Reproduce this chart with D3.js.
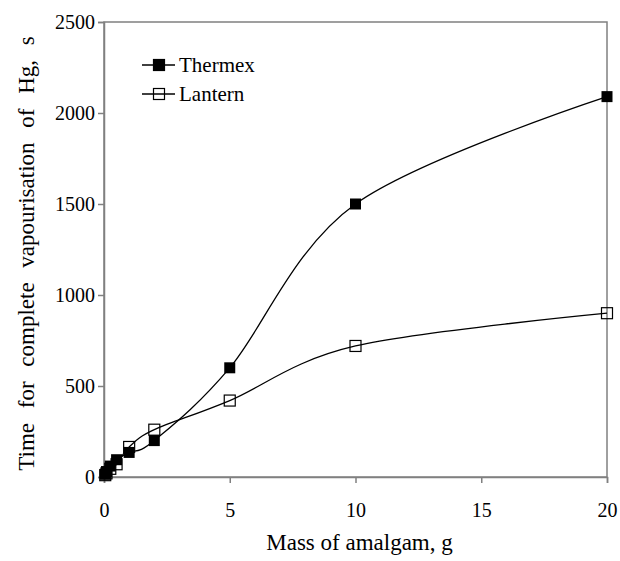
<!DOCTYPE html>
<html>
<head>
<meta charset="utf-8">
<script src="https://cdn.jsdelivr.net/npm/d3@7"></script>
<style>
  body { margin: 0; background: #fff; }
  svg text { font-family: "Liberation Serif", "Times New Roman", serif; fill: #000; }
</style>
</head>
<body>
<div id="chart"></div>
<script>
const massX = [0.05, 0.1, 0.25, 0.5, 1, 2, 5, 10, 20];
const thermex = [15, 30, 60, 95, 135, 200, 600, 1500, 2090];
const lantern = [10, 20, 45, 70, 165, 260, 420, 720, 900];
const xTicks = [0, 5, 10, 15, 20];
const yTicks = [0, 500, 1000, 1500, 2000, 2500];
const seriesNames = ["Thermex", "Lantern"];

const margin = { top: 22, right: 13, bottom: 84, left: 104 };
const W = 620, H = 561;
const width = W - margin.left - margin.right;
const height = H - margin.top - margin.bottom;
const serif = "'Liberation Serif', 'Times New Roman', serif";

const svg = d3.select("#chart").append("svg")
    .attr("width", W)
    .attr("height", H);

const g = svg.append("g")
    .attr("transform", "translate(" + margin.left + "," + margin.top + ")");

const x = d3.scaleLinear().domain([0, 20]).range([0, width]);
const y = d3.scaleLinear().domain([0, 2500]).range([height, 0]);

// plot box
g.append("rect")
    .attr("x", 0).attr("y", 0)
    .attr("width", width).attr("height", height)
    .attr("fill", "none")
    .attr("stroke", "#808080")
    .attr("stroke-width", 1.5);

const xAxis = g.append("g")
    .attr("transform", "translate(0," + height + ")")
    .call(d3.axisBottom(x).tickValues(xTicks).tickFormat(d3.format("d")).tickSize(6).tickPadding(20));

const yAxis = g.append("g")
    .call(d3.axisLeft(y).tickValues(yTicks).tickFormat(d3.format("d")).tickSize(6).tickPadding(3));

[xAxis, yAxis].forEach(a => {
    a.attr("font-family", serif).attr("font-size", 20);
    a.select(".domain").attr("stroke", "#808080").attr("stroke-width", 1.5);
    a.selectAll(".tick line").attr("stroke", "#808080").attr("stroke-width", 1.5);
    a.selectAll(".tick text").attr("fill", "#000");
});

const line = d3.line()
    .x((d, i) => x(massX[i]))
    .y(d => y(d))
    .curve(d3.curveCardinal.tension(0));

const sq = 11;

g.append("path").datum(thermex)
    .attr("d", line).attr("fill", "none").attr("stroke", "#000").attr("stroke-width", 1.3);
g.append("path").datum(lantern)
    .attr("d", line).attr("fill", "none").attr("stroke", "#000").attr("stroke-width", 1.3);

g.selectAll(".lan").data(lantern).enter().append("rect")
    .attr("x", (d, i) => x(massX[i]) - sq / 2)
    .attr("y", d => y(d) - sq / 2)
    .attr("width", sq).attr("height", sq)
    .attr("fill", "none").attr("stroke", "#000").attr("stroke-width", 1.2);

g.selectAll(".the").data(thermex).enter().append("rect")
    .attr("x", (d, i) => x(massX[i]) - sq / 2)
    .attr("y", d => y(d) - sq / 2)
    .attr("width", sq).attr("height", sq)
    .attr("fill", "#000");

// legend
const legend = svg.append("g");
seriesNames.forEach((name, i) => {
    const ly = 65 + i * 29;
    legend.append("line")
        .attr("x1", 142).attr("x2", 175).attr("y1", ly).attr("y2", ly)
        .attr("stroke", "#000").attr("stroke-width", 1.3);
    legend.append("rect")
        .attr("x", 159 - sq / 2).attr("y", ly - sq / 2)
        .attr("width", sq).attr("height", sq)
        .attr("fill", i === 0 ? "#000" : "none")
        .attr("stroke", "#000").attr("stroke-width", 1.2);
    legend.append("text")
        .attr("x", 179).attr("y", ly + 7)
        .attr("font-family", serif)
        .attr("font-size", 21)
        .text(name);
});

// axis titles
svg.append("text")
    .attr("x", margin.left + width / 2 + 4)
    .attr("y", 550)
    .attr("font-family", serif)
    .attr("font-size", 23)
    .style("text-anchor", "middle")
    .text("Mass of amalgam, g");

svg.append("text")
    .attr("transform", "rotate(-90)")
    .attr("x", -(margin.top + height / 2 + 4))
    .attr("y", 34)
    .attr("font-family", serif)
    .attr("font-size", 23)
    .style("text-anchor", "middle")
    .style("word-spacing", "9px")
    .text("Time for complete vapourisation of Hg, s");
</script>
</body>
</html>
